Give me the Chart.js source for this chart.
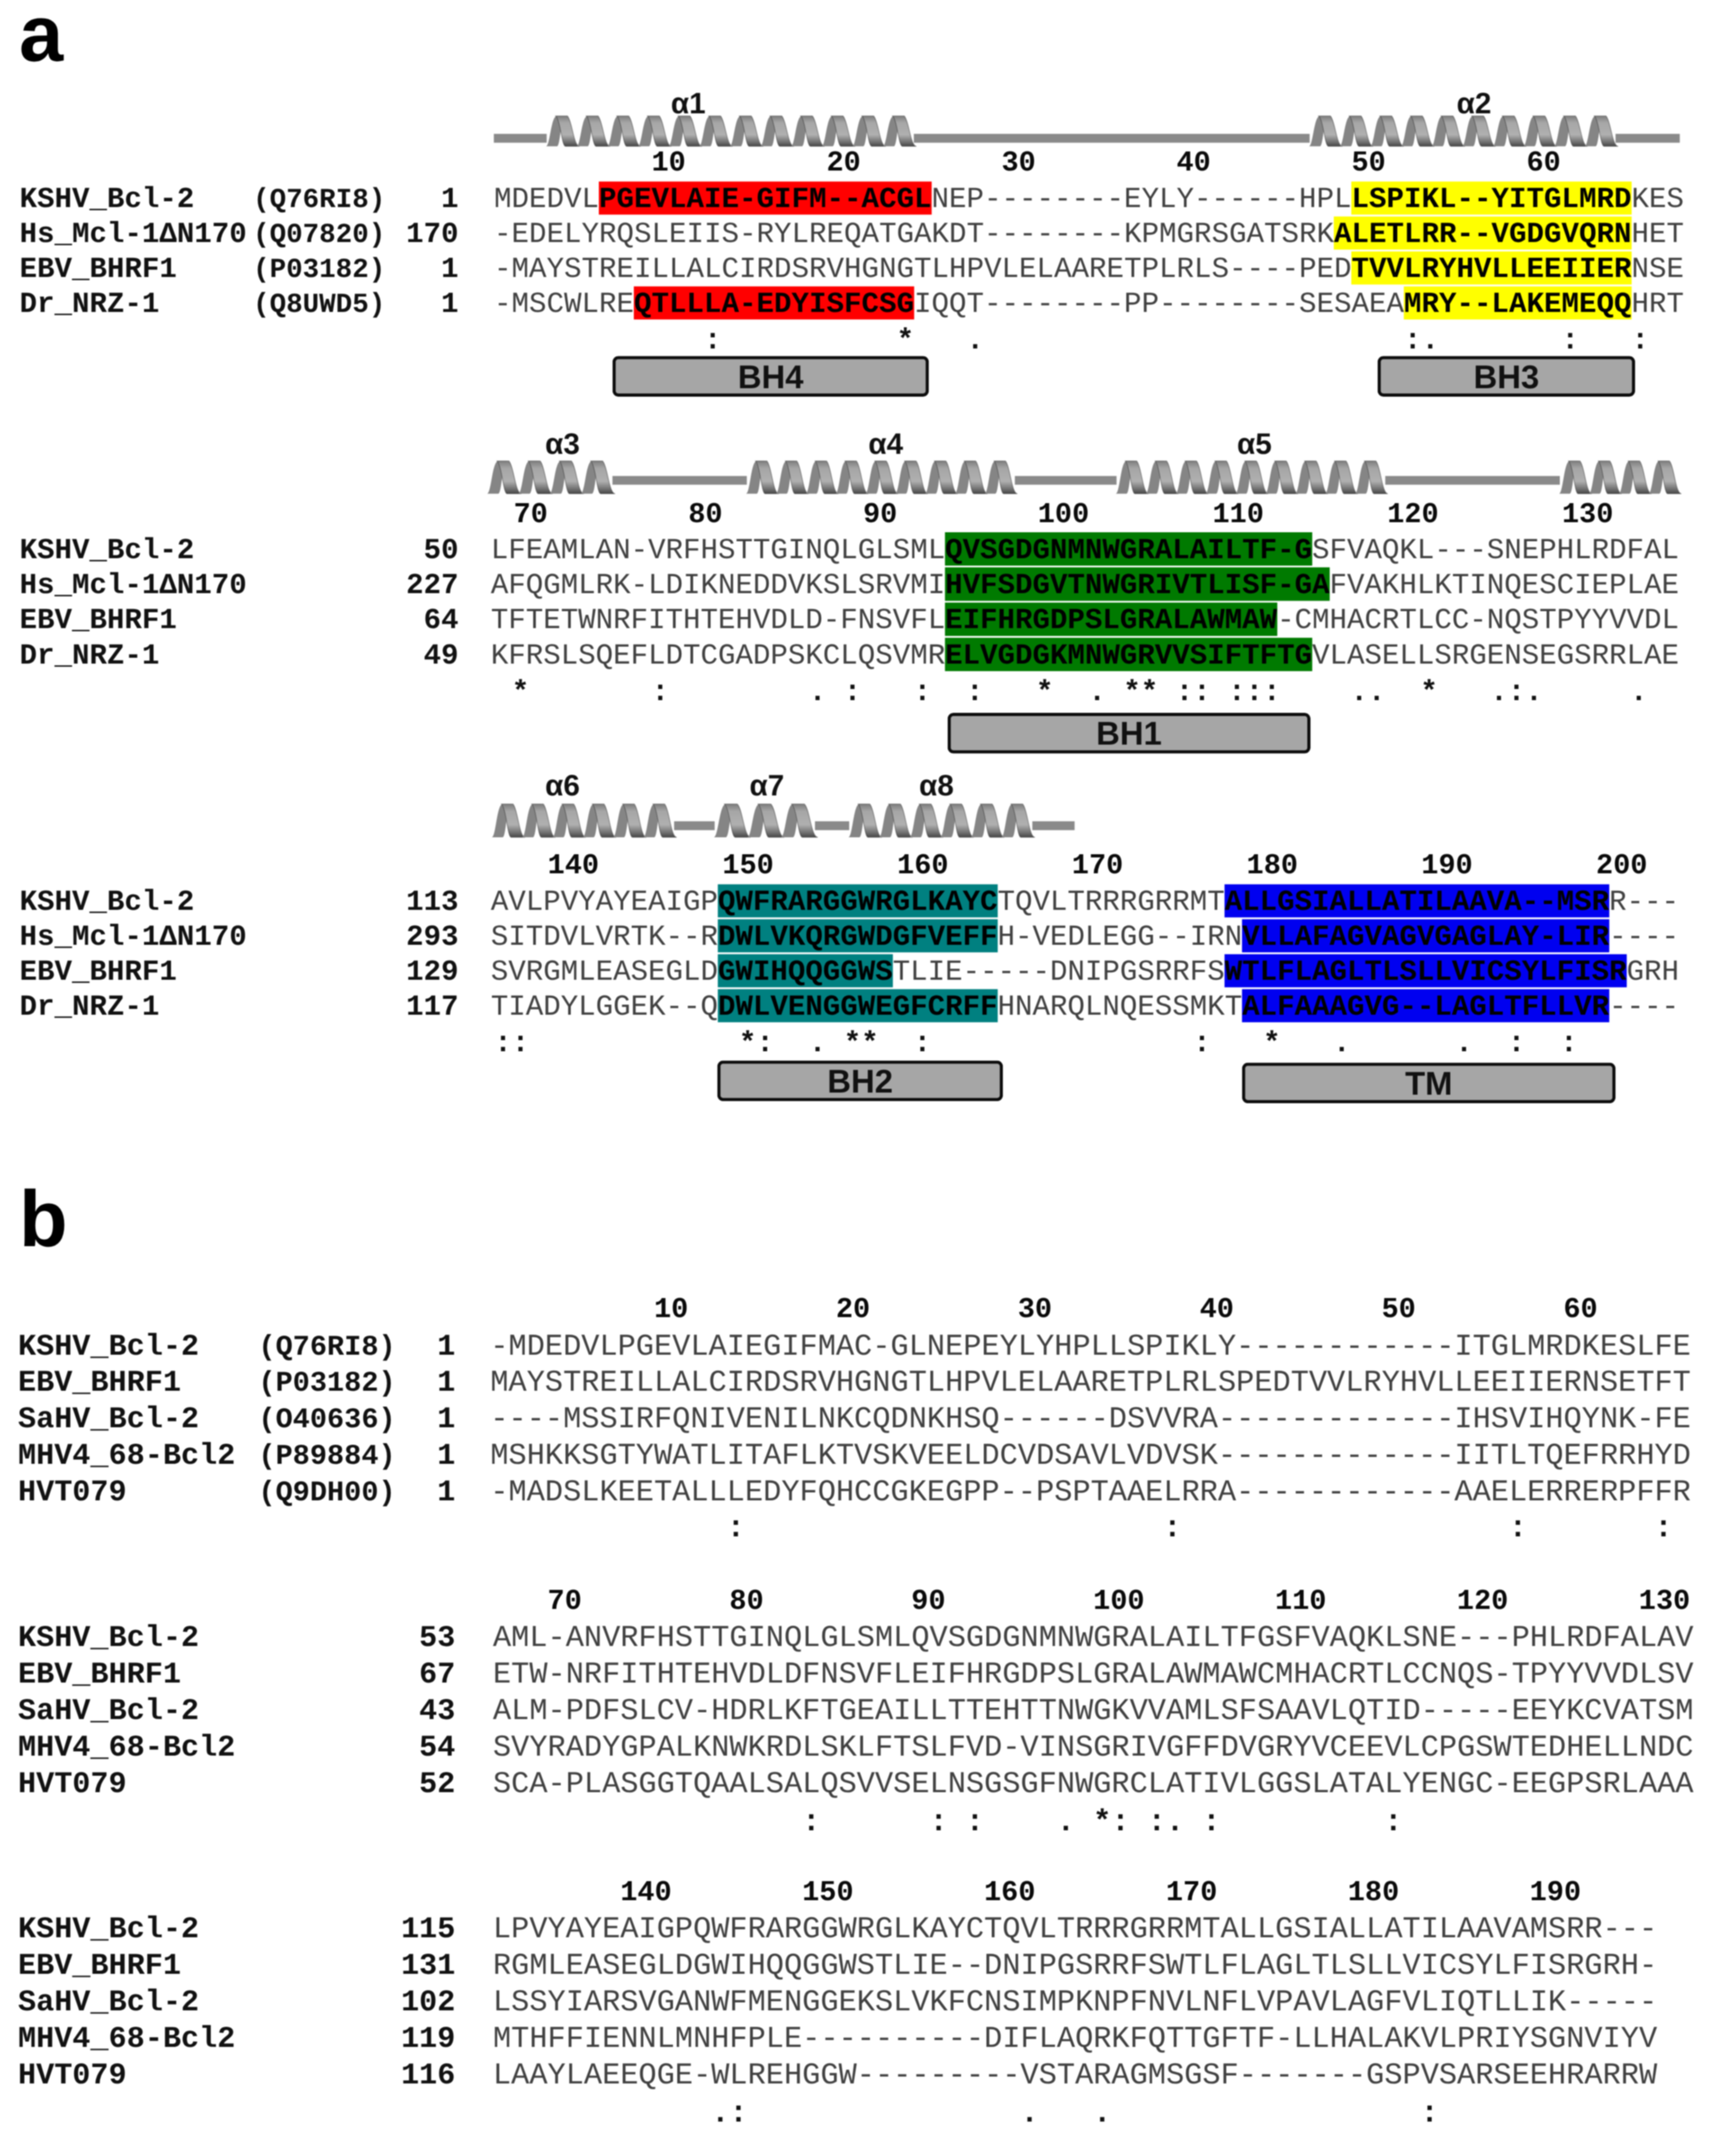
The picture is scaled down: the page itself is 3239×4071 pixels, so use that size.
<!DOCTYPE html>
<html>
<head>
<meta charset="utf-8">
<title>Bcl-2 alignment</title>
<script src="https://cdn.jsdelivr.net/npm/chart.js@4"></script>
<style>
  html, body { margin: 0; background: #fff; }
  #page { position: relative; width: 3239px; height: 4071px; overflow: hidden; }
  #page canvas { position: absolute; left: 0; filter: blur(1.3px); }
</style>
</head>
<body>
<div id="page"></div>
<script>
// panel a names
const aNames = ["KSHV_Bcl-2", "Hs_Mcl-1ΔN170", "EBV_BHRF1", "Dr_NRZ-1"];
const aAcc = ["(Q76RI8)", "(Q07820)", "(P03182)", "(Q8UWD5)"];

// panel a, first block
const a1Seq = [
  "MDEDVLPGEVLAIE-GIFM--ACGLNEP--------EYLY------HPLLSPIKL--YITGLMRDKES",
  "-EDELYRQSLEIIS-RYLREQATGAKDT--------KPMGRSGATSRKALETLRR--VGDGVQRNHET",
  "-MAYSTREILLALCIRDSRVHGNGTLHPVLELAARETPLRLS----PEDTVVLRYHVLLEEIIERNSE",
  "-MSCWLREQTLLLA-EDYISFCSGIQQT--------PP--------SESAEAMRY--LAKEMEQQHRT",
];
const a1Nums = [1, 170, 1, 1];
const a1Ticks = [10, 20, 30, 40, 50, 60];
const a1First = 1;
const a1Marks = [[0, 6, 25, "BH4"], [3, 8, 24, "BH4"], [0, 49, 65, "BH3"], [1, 48, 65, "BH3"], [2, 49, 65, "BH3"], [3, 52, 65, "BH3"]];
const a1Cons = [[12, ":"], [23, "*"], [27, "."], [52, ":"], [53, "."], [61, ":"], [65, ":"]];
const a1Domains = [["BH4", 6.78, 24.84, 5.1], ["BH3", 50.5, 65.2, 5.1]];
const a1Helix = [["α1", 3.0, 24.0, 11.1], ["α2", 46.6, 64.1, 56.0]];
const a1Loops = [[0, 3.0], [24.0, 46.6], [64.1, 67.75]];

// panel a, second block
const a2Seq = [
  "LFEAMLAN-VRFHSTTGINQLGLSMLQVSGDGNMNWGRALAILTF-GSFVAQKL---SNEPHLRDFAL",
  "AFQGMLRK-LDIKNEDDVKSLSRVMIHVFSDGVTNWGRIVTLISF-GAFVAKHLKTINQESCIEPLAE",
  "TFTETWNRFITHTEHVDLD-FNSVFLEIFHRGDPSLGRALAWMAW-CMHACRTLCC-NQSTPYYVVDL",
  "KFRSLSQEFLDTCGADPSKCLQSVMRELVGDGKMNWGRVVSIFTFTGVLASELLSRGENSEGSRRLAE",
];
const a2Nums = [50, 227, 64, 49];
const a2Ticks = [70, 80, 90, 100, 110, 120, 130];
const a2First = 69;
const a2Marks = [[0, 26, 47, "BH1"], [1, 26, 48, "BH1"], [2, 26, 45, "BH1"], [3, 26, 47, "BH1"]];
const a2Cons = [[1, "*"], [9, ":"], [18, "."], [20, ":"], [24, ":"], [27, ":"], [31, "*"], [34, "."], [36, "*"], [37, "*"], [39, ":"], [40, ":"], [42, ":"], [43, ":"], [44, ":"], [49, "."], [50, "."], [53, "*"], [57, "."], [58, ":"], [59, "."], [65, "."]];
const a2Domains = [["BH1", 26.15, 46.9, 5.24]];
const a2Helix = [["α3", -0.18, 6.97, 4.1], ["α4", 14.64, 30.0, 22.6], ["α5", 35.8, 51.2, 43.7], ["", 61.17, 68.0, 0]];
const a2Loops = [[6.97, 14.64], [30.0, 35.8], [51.2, 61.17]];

// panel a, third block
const a3Seq = [
  "AVLPVYAYEAIGPQWFRARGGWRGLKAYCTQVLTRRRGRRMTALLGSIALLATILAAVA--MSRR---",
  "SITDVLVRTK--RDWLVKQRGWDGFVEFFH-VEDLEGG--IRNVLLAFAGVAGVGAGLAY-LIR----",
  "SVRGMLEASEGLDGWIHQQGGWSTLIE-----DNIPGSRRFSWTLFLAGLTLSLLVICSYLFISRGRH",
  "TIADYLGGEK--QDWLVENGGWEGFCRFFHNARQLNQESSMKTALFAAAGVG--LAGLTFLLVR----",
];
const a3Nums = [113, 293, 129, 117];
const a3Ticks = [140, 150, 160, 170, 180, 190, 200];
const a3First = 137;
const a3Marks = [[0, 13, 29, "BH2"], [1, 13, 29, "BH2"], [2, 13, 23, "BH2"], [3, 13, 29, "BH2"], [0, 42, 64, "TM"], [1, 43, 64, "TM"], [2, 42, 65, "TM"], [3, 43, 64, "TM"]];
const a3Cons = [[0, ":"], [1, ":"], [14, "*"], [15, ":"], [18, "."], [20, "*"], [21, "*"], [24, ":"], [40, ":"], [44, "*"], [48, "."], [55, "."], [58, ":"], [61, ":"]];
const a3Domains = [["BH2", 12.97, 29.3, 5.15], ["TM", 43.0, 64.36, 5.21]];
const a3Helix = [["α6", 0.09, 10.5, 4.1], ["α7", 12.8, 18.56, 15.8], ["α8", 20.5, 31.0, 25.5]];
const a3Loops = [[10.5, 12.8], [18.56, 20.5], [31.0, 33.4]];

// panel b names
const bNames = ["KSHV_Bcl-2", "EBV_BHRF1", "SaHV_Bcl-2", "MHV4_68-Bcl2", "HVT079"];
const bAcc = ["(Q76RI8)", "(P03182)", "(O40636)", "(P89884)", "(Q9DH00)"];

const b1Seq = [
  "-MDEDVLPGEVLAIEGIFMAC-GLNEPEYLYHPLLSPIKLY------------ITGLMRDKESLFE",
  "MAYSTREILLALCIRDSRVHGNGTLHPVLELAARETPLRLSPEDTVVLRYHVLLEEIIERNSETFT",
  "----MSSIRFQNIVENILNKCQDNKHSQ------DSVVRA-------------IHSVIHQYNK-FE",
  "MSHKKSGTYWATLITAFLKTVSKVEELDCVDSAVLVDVSK-------------IITLTQEFRRHYD",
  "-MADSLKEETALLLEDYFQHCCGKEGPP--PSPTAAELRRA------------AAELERRERPFFR",
];
const b1Nums = [1, 1, 1, 1, 1];
const b1Ticks = [10, 20, 30, 40, 50, 60];
const b1First = 1;
const b1Cons = [[13, ":"], [37, ":"], [56, ":"], [64, ":"]];

const b2Seq = [
  "AML-ANVRFHSTTGINQLGLSMLQVSGDGNMNWGRALAILTFGSFVAQKLSNE---PHLRDFALAV",
  "ETW-NRFITHTEHVDLDFNSVFLEIFHRGDPSLGRALAWMAWCMHACRTLCCNQS-TPYYVVDLSV",
  "ALM-PDFSLCV-HDRLKFTGEAILLTTEHTTNWGKVVAMLSFSAAVLQTID-----EEYKCVATSM",
  "SVYRADYGPALKNWKRDLSKLFTSLFVD-VINSGRIVGFFDVGRYVCEEVLCPGSWTEDHELLNDC",
  "SCA-PLASGGTQAALSALQSVVSELNSGSGFNWGRCLATIVLGGSLATALYENGC-EEGPSRLAAA",
];
const b2Nums = [53, 67, 43, 54, 52];
const b2Ticks = [70, 80, 90, 100, 110, 120, 130];
const b2First = 67;
const b2Cons = [[17, ":"], [24, ":"], [26, ":"], [31, "."], [33, "*"], [34, ":"], [36, ":"], [37, "."], [39, ":"], [49, ":"]];

const b3Seq = [
  "LPVYAYEAIGPQWFRARGGWRGLKAYCTQVLTRRRGRRMTALLGSIALLATILAAVAMSRR---",
  "RGMLEASEGLDGWIHQQGGWSTLIE--DNIPGSRRFSWTLFLAGLTLSLLVICSYLFISRGRH-",
  "LSSYIARSVGANWFMENGGEKSLVKFCNSIMPKNPFNVLNFLVPAVLAGFVLIQTLLIK-----",
  "MTHFFIENNLMNHFPLE----------DIFLAQRKFQTTGFTF-LLHALAKVLPRIYSGNVIYV",
  "LAAYLAEEQGE-WLREHGGW---------VSTARAGMSGSF-------GSPVSARSEEHRARRW",
];
const b3Nums = [115, 131, 102, 119, 116];
const b3Ticks = [140, 150, 160, 170, 180, 190];
const b3First = 133;
const b3Cons = [[12, "."], [13, ":"], [29, "."], [33, "."], [51, ":"]];

const W = 3239;
const motifColors = { BH4: "#ff0000", BH3: "#ffff00", BH1: "#007a00", BH2: "#008080", TM: "#0000f0" };
const MONO = '"Liberation Mono", monospace';
const SANS = '"Liberation Sans", Arial, sans-serif';

function makeBlock(d, lay) {
  const canvas = document.createElement("canvas");
  canvas.width = W;
  canvas.height = lay.h;
  canvas.style.top = lay.top + "px";
  document.getElementById("page").appendChild(canvas);

  const px = lay.cw / 0.6; // mono font size follows the column width
  const capShift = px * 0.31;
  const consShift = lay.consShift || 0;
  const tickShift = lay.tickShift || 0;

  const datasets = [];
  (d.loops || []).forEach(l => datasets.push({
    label: "loop", data: [{ x: l, y: lay.loopRow }], backgroundColor: "#8a8a8a",
    barThickness: 16, grouped: false, clip: false,
  }));
  (d.marks || []).forEach(m => datasets.push({
    label: m[3], data: [{ x: [m[1], m[2]], y: m[0] }], backgroundColor: motifColors[m[3]],
    barThickness: lay.pitch - 4, grouped: false, clip: false,
  }));
  (d.domains || []).forEach(b => datasets.push({
    label: b[0], data: [{ x: [b[1], b[2]], y: b[3] }], backgroundColor: "#a6a6a6",
    borderColor: "#0c0c0c", borderWidth: 6, borderRadius: 11, borderSkipped: false,
    barThickness: 76, grouped: false, clip: false,
  }));

  const alignText = {
    id: "alignText",
    afterDatasetsDraw(chart) {
      const ctx = chart.ctx;
      const x = chart.scales.x, y = chart.scales.y;
      ctx.save();
      ctx.textBaseline = "alphabetic";
      ctx.textRendering = "geometricPrecision";

      // residues, highlighted stretches go bold
      d.seq.forEach((s, r) => {
        const base = y.getPixelForValue(r) + capShift;
        const cuts = (d.marks || []).filter(m => m[0] === r).sort((p, q) => p[1] - q[1]);
        let c = 0;
        ctx.textAlign = "left";
        const put = (from, to, bold) => {
          if (to <= from) return;
          ctx.font = (bold ? "bold " : "") + px + "px " + MONO;
          ctx.fillStyle = bold ? "#000" : "#404040";
          ctx.fillText(s.slice(from, to), x.getPixelForValue(from), base);
        };
        cuts.forEach(m => { put(c, m[1], false); put(m[1], m[2], true); c = m[2]; });
        put(c, s.length, false);

        // left hand columns
        ctx.fillStyle = "#111";
        ctx.font = "bold " + lay.nameSize + "px " + MONO;
        ctx.fillText(d.names[r], lay.nameX, base);
        if (d.acc) {
          ctx.font = "bold " + lay.accSize + "px " + MONO;
          ctx.fillText(d.acc[r], lay.accX, base);
        }
        ctx.font = "bold " + lay.nameSize + "px " + MONO;
        ctx.textAlign = "right";
        ctx.fillText(String(d.nums[r]), lay.numX, base);
      });

      // conservation marks
      ctx.textAlign = "left";
      ctx.fillStyle = "#111";
      ctx.font = "bold " + px + "px " + MONO;
      const consBase = y.getPixelForValue(lay.consRow) + capShift;
      d.cons.forEach(m => ctx.fillText(m[1], x.getPixelForValue(m[0] + consShift), consBase));

      // domain names
      ctx.textAlign = "center";
      ctx.fillStyle = "#111";
      ctx.font = "bold 62px " + SANS;
      (d.domains || []).forEach(b => {
        ctx.fillText(b[0], x.getPixelForValue((b[1] + b[2]) / 2), y.getPixelForValue(b[3]) + 22);
      });

      // helices and their names
      (d.helix || []).forEach(h => {
        drawHelix(ctx, x.getPixelForValue(h[1]), x.getPixelForValue(h[2]),
          y.getPixelForValue(lay.helixTop), y.getPixelForValue(lay.helixBottom));
        if (h[0]) {
          ctx.fillStyle = "#111";
          ctx.font = "bold 56px " + SANS;
          ctx.fillText(h[0], x.getPixelForValue(h[3]), y.getPixelForValue(lay.helixName) + 20);
        }
      });

      // panel letter
      if (d.panel) {
        ctx.textAlign = "left";
        ctx.fillStyle = "#000";
        ctx.font = "bold 150px " + SANS;
        ctx.fillText(d.panel, 36, y.getPixelForValue(lay.panelRow));
      }
      ctx.restore();
    },
  };

  return new Chart(canvas, {
    type: "bar",
    data: { datasets },
    plugins: [alignText],
    options: {
      indexAxis: "y",
      responsive: false,
      animation: false,
      devicePixelRatio: 1,
      layout: { padding: 0 },
      plugins: { legend: { display: false }, tooltip: { enabled: false } },
      scales: {
        x: {
          type: "linear",
          position: { y: lay.tickRow },
          min: -lay.x0 / lay.cw,
          max: (W - lay.x0) / lay.cw,
          grid: { display: false },
          border: { display: false },
          afterBuildTicks: axis => { axis.ticks = d.ticks.map(n => ({ value: n - d.first + tickShift })); },
          ticks: {
            align: "start",
            autoSkip: false,
            maxRotation: 0,
            padding: 0,
            color: "#0a0a0a",
            font: { family: MONO, weight: "bold", size: lay.tickSize },
            callback: v => String(Math.round(v - tickShift + d.first)),
          },
        },
        y: {
          type: "linear",
          display: false,
          reverse: true,
          offset: false,
          min: (lay.top - lay.y0) / lay.pitch,
          max: (lay.top + lay.h - lay.y0) / lay.pitch,
        },
      },
    },
  });
}

// one turn of ribbon per helixTurn pixels
const helixTurn = 59;
function drawHelix(ctx, x1, x2, top, bot) {
  const n = Math.max(1, Math.round((x2 - x1) / helixTurn));
  const w = (x2 - x1) / n;
  const h = bot - top;
  const grad = ctx.createLinearGradient(0, top, 0, bot);
  grad.addColorStop(0, "#7e7e7e");
  grad.addColorStop(0.22, "#a6a6a6");
  grad.addColorStop(0.62, "#b0b0b0");
  grad.addColorStop(0.86, "#707070");
  grad.addColorStop(1, "#474747");
  ctx.save();
  for (let i = 0; i < n; i++) {
    const x = x1 + i * w;
    // back strand, going up
    ctx.fillStyle = "#858585";
    ctx.beginPath();
    ctx.moveTo(x - 0.02 * w, bot);
    ctx.bezierCurveTo(x + 0.12 * w, bot, x + 0.14 * w, top, x + 0.34 * w, top);
    ctx.lineTo(x + 0.62 * w, top);
    ctx.bezierCurveTo(x + 0.46 * w, top, x + 0.46 * w, bot, x + 0.34 * w, bot);
    ctx.closePath();
    ctx.fill();
    // front strand, coming down
    ctx.fillStyle = grad;
    ctx.beginPath();
    ctx.moveTo(x + 0.3 * w, top);
    ctx.lineTo(x + 0.68 * w, top);
    ctx.bezierCurveTo(x + 0.84 * w, top + 0.15 * h, x + 0.88 * w, bot, x + 1.08 * w, bot);
    ctx.lineTo(x + 0.62 * w, bot);
    ctx.bezierCurveTo(x + 0.5 * w, bot, x + 0.46 * w, top + 0.15 * h, x + 0.3 * w, top);
    ctx.closePath();
    ctx.fill();
    // thin edge so the turns read apart
    ctx.strokeStyle = "rgba(60,60,60,0.55)";
    ctx.lineWidth = 1.5;
    ctx.stroke();
  }
  ctx.restore();
}

const aText = { nameX: 37, accX: 478, accSize: 52, numX: 866, nameSize: 55, tickSize: 54 };
const bText = { nameX: 34, accX: 488, accSize: 54, numX: 860, nameSize: 57, tickSize: 54 };

makeBlock(
  { seq: a1Seq, names: aNames, acc: aAcc, nums: a1Nums, ticks: a1Ticks, first: a1First, marks: a1Marks, cons: a1Cons, domains: a1Domains, helix: a1Helix, loops: a1Loops, panel: "a" },
  { ...aText, top: 0, h: 790, x0: 933, cw: 33.05, y0: 374, pitch: 66, tickRow: -1.6, consRow: 4.05, helixTop: -2.35, helixBottom: -1.48, loopRow: -1.71, helixName: -2.73, panelRow: -3.92 }
);
makeBlock(
  { seq: a2Seq, names: aNames, nums: a2Nums, ticks: a2Ticks, first: a2First, marks: a2Marks, cons: a2Cons, domains: a2Domains, helix: a2Helix, loops: a2Loops },
  { ...aText, top: 790, h: 660, x0: 927, cw: 33, y0: 1036.5, pitch: 66.4, tickRow: -1.58, tickShift: 0.3, consShift: 0.2, consRow: 4.05, helixTop: -2.5, helixBottom: -1.57, loopRow: -1.95, helixName: -3.0 }
);
makeBlock(
  { seq: a3Seq, names: aNames, nums: a3Nums, ticks: a3Ticks, first: a3First, marks: a3Marks, cons: a3Cons, domains: a3Domains, helix: a3Helix, loops: a3Loops },
  { ...aText, top: 1450, h: 750, x0: 927, cw: 33, y0: 1701, pitch: 66, tickRow: -1.6, tickShift: 0.25, consShift: 0.2, consRow: 4.05, helixTop: -2.77, helixBottom: -1.82, loopRow: -2.15, helixName: -3.32 }
);
makeBlock(
  { seq: b1Seq, names: bNames, acc: bAcc, nums: b1Nums, ticks: b1Ticks, first: b1First, cons: b1Cons, panel: "b" },
  { ...bText, top: 2200, h: 780, x0: 926, cw: 34.35, y0: 2540, pitch: 68.7, tickRow: -1.56, consRow: 5.0, panelRow: -2.72 }
);
makeBlock(
  { seq: b2Seq, names: bNames, nums: b2Nums, ticks: b2Ticks, first: b2First, cons: b2Cons },
  { ...bText, top: 2980, h: 550, x0: 931, cw: 34.35, y0: 3090, pitch: 69, tickRow: -1.54, consRow: 5.05 }
);
makeBlock(
  { seq: b3Seq, names: bNames, nums: b3Nums, ticks: b3Ticks, first: b3First, cons: b3Cons },
  { ...bText, top: 3530, h: 541, x0: 931, cw: 34.35, y0: 3640, pitch: 69, tickRow: -1.53, consRow: 5.05 }
);
</script>
</body>
</html>
